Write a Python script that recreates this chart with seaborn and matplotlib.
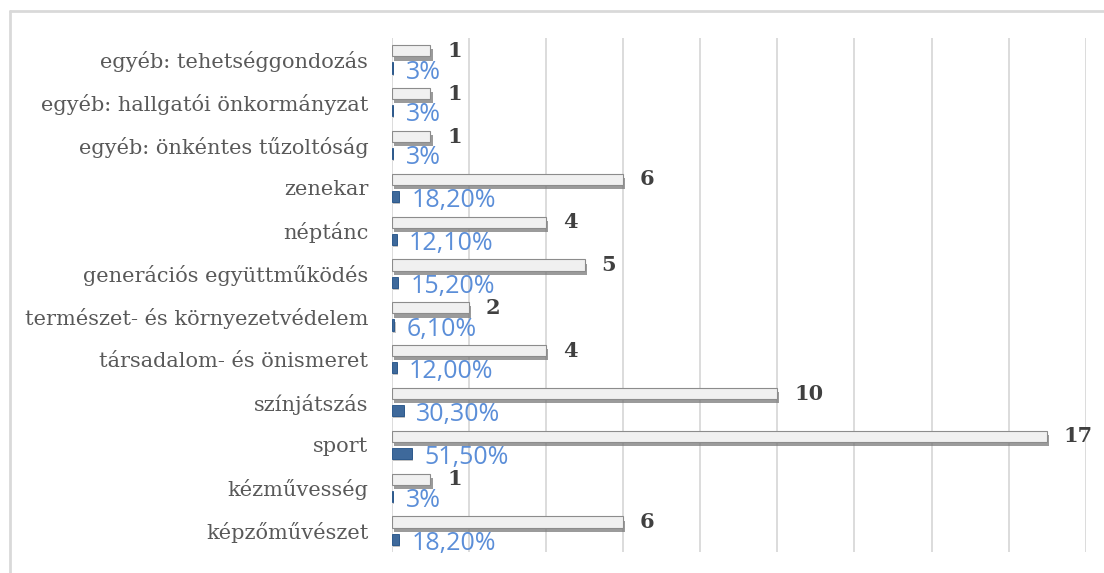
import numpy as np
import pandas as pd
import matplotlib
matplotlib.use("Agg")
import matplotlib.pyplot as plt
import matplotlib.patheffects as pe
from matplotlib.lines import Line2D
import seaborn as sns

# adatok (felülről lefelé)
categories = [
    "egyéb: tehetséggondozás",
    "egyéb: hallgatói önkormányzat",
    "egyéb: önkéntes tűzoltóság",
    "zenekar",
    "néptánc",
    "generációs együttműködés",
    "természet- és környezetvédelem",
    "társadalom- és önismeret",
    "színjátszás",
    "sport",
    "kézművesség",
    "képzőművészet",
]
counts = [1, 1, 1, 6, 4, 5, 2, 4, 10, 17, 1, 6]
percents = [3, 3, 3, 18.2, 12.1, 15.2, 6.1, 12.0, 30.3, 51.5, 3, 18.2]
percent_labels = ["3%", "3%", "3%", "18,20%", "12,10%", "15,20%", "6,10%",
                  "12,00%", "30,30%", "51,50%", "3%", "18,20%"]
x_ticks = [0, 2, 4, 6, 8, 10, 12, 14, 16, 18]

df = pd.DataFrame({
    "cat": categories * 2,
    "series": ["db"] * len(categories) + ["arány"] * len(categories),
    "value": counts + [p / 100 for p in percents],
})

sns.set_theme(style="white")

fig = plt.figure(figsize=(11.04, 5.73), dpi=100)
ax = fig.add_axes([0.355, 0.0366, 0.6284, 0.8971])

sns.barplot(data=df, x="value", y="cat", hue="series", orient="h",
            hue_order=["db", "arány"], palette=["#f0f0f0", "#2f68aa"],
            width=0.8, gap=0.35, dodge=True, legend=False, ax=ax, zorder=3)

# 3D-szerű árnyék a sávokra
for patch in ax.containers[0]:
    patch.set_edgecolor("#8c8c8c")
    patch.set_linewidth(0.8)
    patch.set_path_effects([pe.SimplePatchShadow(offset=(1.5, -3), shadow_rgbFace="#7a7a7a", alpha=0.75),
                            pe.Normal()])
for patch in ax.containers[1]:
    patch.set_edgecolor("#1f4f86")
    patch.set_linewidth(0.6)
    patch.set_path_effects([pe.SimplePatchShadow(offset=(1, -1.5), shadow_rgbFace="#9a9a9a", alpha=0.6),
                            pe.Normal()])

ax.bar_label(ax.containers[0], labels=[str(c) for c in counts], padding=12,
             fontsize=15, fontweight="bold", color="#404040", family="DejaVu Serif")
pct_texts = ax.bar_label(ax.containers[1], labels=percent_labels, padding=9,
                         fontsize=18, color="#5b8ed8", family="Open Sans")
# a százalékos címkék kicsit lejjebb ülnek
for t in pct_texts:
    t.xyann = (9, -3)

ax.set_xlim(0, 18)
ax.set_xticks(x_ticks)
ax.set_xticklabels([])
ax.tick_params(axis="x", length=0)
ax.grid(axis="x", color="#d9d9d9", linewidth=1.3, zorder=0)
ax.set_axisbelow(True)
for s in ax.spines.values():
    s.set_visible(False)

ax.set_xlabel("")
ax.set_ylabel("")
ax.tick_params(axis="y", length=0, pad=17)
for lbl in ax.get_yticklabels():
    lbl.set_fontfamily("DejaVu Serif")
    lbl.set_fontsize(15)
    lbl.set_color("#595959")

# keret
fig.add_artist(Line2D([10 / 1104, 1], [1 - 11 / 573, 1 - 11 / 573], color="#d9d9d9", lw=2))
fig.add_artist(Line2D([10 / 1104, 10 / 1104], [0, 1 - 11 / 573], color="#d9d9d9", lw=2))

fig.savefig("out.png", dpi=100)
